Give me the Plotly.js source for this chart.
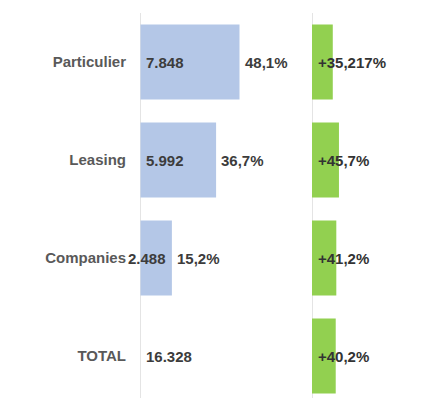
<!DOCTYPE html>
<html><head><meta charset="utf-8">
<script src="https://cdn.plot.ly/plotly-3.0.1.min.js"></script>
<style>html,body{margin:0;padding:0;background:#fff}#chart{width:425px;height:398px}</style>
</head><body><div id="chart"></div>
<script>
// ---- data ----
const categories = ['Particulier', 'Leasing', 'Companies', 'TOTAL'];
const units = [7848, 5992, 2488, 16328];
const unitLabels = ['7.848', '5.992', '2.488', '16.328'];
const shareLabels = ['48,1%', '36,7%', '15,2%', ''];
const hasBar = [true, true, true, false];
const growth = [35.217, 45.7, 41.2, 40.2];
const growthLabels = ['+35,217%', '+45,7%', '+41,2%', '+40,2%'];

// ---- layout geometry ----
const W = 425, H = 398;
const FONT = 'Liberation Sans, Arial, sans-serif';
const k1 = 99 / 7848;      // px per unit, left panel
const k2 = 0.59;           // px per unit, right panel
const zero1 = 140.5, d1s = 133, d1e = 300;
const zero2 = 312, d2s = 305, d2e = 425;
const topMargin = 13, band = 98;
const span = (H - topMargin) / band;

const blueX = units.map((v, i) => hasBar[i] ? v : null);

const traces = [
  {type: 'bar', orientation: 'h', y: categories, x: blueX, xaxis: 'x', yaxis: 'y',
   width: 0.765, marker: {color: '#b4c7e7', line: {width: 0}}, hoverinfo: 'none', showlegend: false},
  {type: 'bar', orientation: 'h', y: categories, x: growth, xaxis: 'x2', yaxis: 'y',
   width: 0.765, marker: {color: '#92d050', line: {width: 0}}, hoverinfo: 'none', showlegend: false}
];

// text measure
const cv = document.createElement('canvas').getContext('2d');
cv.font = 'bold 15px "Liberation Sans", Arial';

const annotations = [];
categories.forEach((c, i) => {
  const w = cv.measureText(unitLabels[i]).width;
  const barPx = hasBar[i] ? units[i] * k1 : Infinity;
  const fits = w + 6 <= barPx;
  annotations.push({
    xref: 'x', yref: 'y', x: fits ? 0 : units[i], y: c, text: unitLabels[i],
    xanchor: fits ? 'left' : 'right', xshift: fits ? 3 : -4, showarrow: false,
    font: {family: FONT, size: 15, color: '#3c3c3c', weight: 'bold'}
  });
  if (shareLabels[i]) {
    annotations.push({
      xref: 'x', yref: 'y', x: units[i], y: c, text: shareLabels[i],
      xanchor: 'left', xshift: 3, showarrow: false,
      font: {family: FONT, size: 15, color: '#3c3c3c', weight: 'bold'}
    });
  }
  annotations.push({
    xref: 'x2', yref: 'y', x: 0, y: c, text: growthLabels[i],
    xanchor: 'left', xshift: 4, showarrow: false,
    font: {family: FONT, size: 15, color: '#333333', weight: 'bold'}
  });
});

const layout = {
  width: W, height: H,
  margin: {l: 0, r: 0, t: topMargin, b: 0, pad: 0},
  paper_bgcolor: '#ffffff', plot_bgcolor: '#ffffff',
  barmode: 'overlay',
  showlegend: false,
  xaxis: {domain: [d1s / W, d1e / W], range: [-(zero1 - d1s) / k1, (d1e - zero1) / k1],
          showgrid: false, showticklabels: false, ticks: '', zeroline: true,
          zerolinecolor: '#e4e4e4', zerolinewidth: 1, anchor: 'y', fixedrange: true},
  xaxis2: {domain: [d2s / W, d2e / W], range: [-(zero2 - d2s) / k2, (d2e - zero2) / k2],
           showgrid: false, showticklabels: false, ticks: '', zeroline: true,
           zerolinecolor: '#e4e4e4', zerolinewidth: 1, anchor: 'y', fixedrange: true},
  yaxis: {type: 'category', categoryorder: 'array', categoryarray: categories,
          range: [span - 0.5, -0.5], showgrid: false, zeroline: false, showline: false,
          ticks: 'outside', ticklen: 3, tickcolor: 'rgba(0,0,0,0)',
          tickfont: {family: FONT, size: 15, color: '#595959', weight: 'bold'},
          anchor: 'x', fixedrange: true},
  annotations: annotations
};

Plotly.newPlot('chart', traces, layout, {displayModeBar: false, staticPlot: true});
</script>
</body></html>
